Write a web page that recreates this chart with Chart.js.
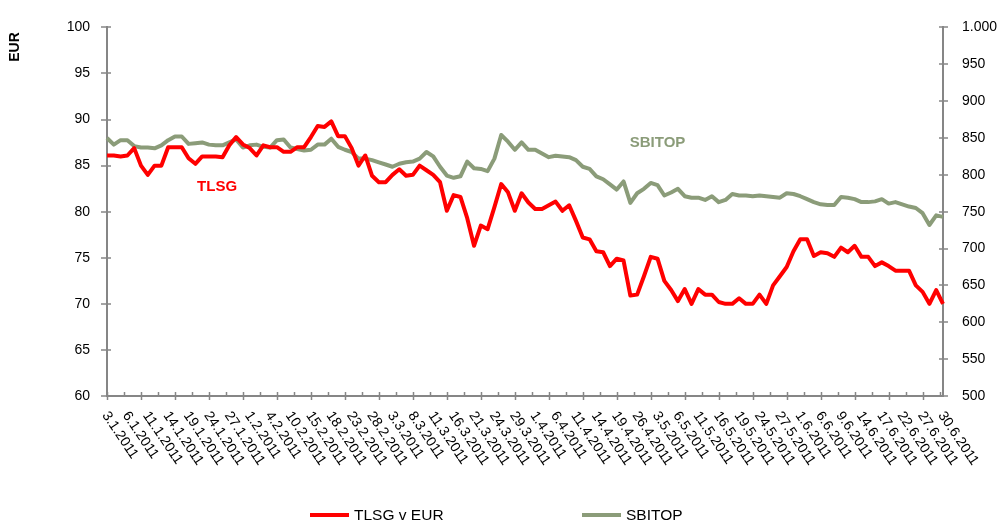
<!DOCTYPE html>
<html>
<head>
<meta charset="utf-8">
<script src="https://cdn.jsdelivr.net/npm/chart.js@4.4.1/dist/chart.umd.min.js"></script>
<style>
  body { margin: 0; background: #fff; }
  canvas { display: block; }
</style>
</head>
<body>
<canvas id="chart" width="999" height="521"></canvas>
<script>
// trading days, first half of 2011
var dates = [
  '3.1.2011','4.1.2011','5.1.2011','6.1.2011','7.1.2011','10.1.2011','11.1.2011','12.1.2011','13.1.2011','14.1.2011',
  '17.1.2011','18.1.2011','19.1.2011','20.1.2011','21.1.2011','24.1.2011','25.1.2011','26.1.2011','27.1.2011','28.1.2011','31.1.2011',
  '1.2.2011','2.2.2011','3.2.2011','4.2.2011','7.2.2011','9.2.2011','10.2.2011','11.2.2011','14.2.2011','15.2.2011',
  '16.2.2011','17.2.2011','18.2.2011','21.2.2011','22.2.2011','23.2.2011','24.2.2011','25.2.2011','28.2.2011',
  '1.3.2011','2.3.2011','3.3.2011','4.3.2011','7.3.2011','8.3.2011','9.3.2011','10.3.2011','11.3.2011','14.3.2011',
  '15.3.2011','16.3.2011','17.3.2011','18.3.2011','21.3.2011','22.3.2011','23.3.2011','24.3.2011','25.3.2011','28.3.2011',
  '29.3.2011','30.3.2011','31.3.2011',
  '1.4.2011','4.4.2011','5.4.2011','6.4.2011','7.4.2011','8.4.2011','11.4.2011','12.4.2011','13.4.2011','14.4.2011',
  '15.4.2011','18.4.2011','19.4.2011','20.4.2011','21.4.2011','26.4.2011','28.4.2011','29.4.2011',
  '3.5.2011','4.5.2011','5.5.2011','6.5.2011','9.5.2011','10.5.2011','11.5.2011','12.5.2011','13.5.2011','16.5.2011',
  '17.5.2011','18.5.2011','19.5.2011','20.5.2011','23.5.2011','24.5.2011','25.5.2011','26.5.2011','27.5.2011','30.5.2011','31.5.2011',
  '1.6.2011','2.6.2011','3.6.2011','6.6.2011','7.6.2011','8.6.2011','9.6.2011','10.6.2011','13.6.2011','14.6.2011',
  '15.6.2011','16.6.2011','17.6.2011','20.6.2011','21.6.2011','22.6.2011','23.6.2011','24.6.2011','27.6.2011','28.6.2011',
  '29.6.2011','30.6.2011'
];

// TLSG share price in EUR (left axis)
var tlsg = [
  86.1, 86.1, 86.0, 86.1, 86.9, 85.0, 84.0, 85.0, 85.0, 87.0,
  87.0, 87.0, 85.8, 85.2, 86.0, 86.0, 86.0, 85.9, 87.2, 88.1, 87.3,
  86.9, 86.1, 87.2, 87.0, 87.0, 86.5, 86.5, 87.0, 87.0, 88.1,
  89.3, 89.2, 89.8, 88.2, 88.2, 86.9, 85.0, 86.1, 83.9,
  83.2, 83.2, 84.0, 84.6, 83.9, 84.0, 85.0, 84.5, 84.0, 83.2,
  80.1, 81.8, 81.6, 79.3, 76.3, 78.5, 78.1, 80.5, 83.0, 82.1,
  80.1, 82.0, 81.0,
  80.3, 80.3, 80.7, 81.1, 80.1, 80.7, 79.0, 77.2, 77.0, 75.7,
  75.6, 74.1, 74.9, 74.7, 70.9, 71.0, 73.0, 75.1,
  74.9, 72.5, 71.5, 70.3, 71.6, 70.0, 71.6, 71.0, 71.0, 70.2,
  70.0, 70.0, 70.6, 70.0, 70.0, 71.0, 70.0, 72.0, 73.0, 74.0, 75.7,
  77.0, 77.0, 75.2, 75.6, 75.5, 75.1, 76.1, 75.6, 76.3, 75.1,
  75.1, 74.1, 74.5, 74.1, 73.6, 73.6, 73.6, 72.0, 71.3, 70.0,
  71.5, 70.0
];

// SBITOP index (right axis)
var sbitop = [
  850, 841, 847, 847, 839, 837, 837, 836, 840, 847,
  852, 852, 842, 843, 844, 841, 840, 840, 844, 848, 837,
  840, 841, 838, 837, 847, 848, 837, 835, 833, 834,
  841, 841, 849, 838, 834, 831, 822, 822, 820,
  817, 814, 811, 815, 817, 818, 822, 831, 825, 811,
  799, 796, 798, 818, 809, 808, 805, 822, 854, 845,
  834, 844, 834,
  834, 829, 824, 826, 825, 824, 820, 811, 808, 798,
  794, 787, 780, 791, 762, 775, 781, 789,
  786, 772, 776, 781, 771, 769, 769, 766, 771, 763,
  766, 774, 772, 772, 771, 772, 771, 770, 769, 775, 774,
  771, 767, 763, 760, 759, 759, 770, 769, 767, 763,
  763, 764, 767, 761, 763, 760, 757, 755, 748, 732,
  745, 743
];

var seriesNames = ['TLSG v EUR', 'SBITOP'];
var seriesColors = ['#ff0000', '#8b9c79'];
var axisColor = '#868686';
var fontFamily = "'Liberation Sans', Arial, Helvetica, sans-serif";

function thousands(v) {
  var s = String(v);
  return s.length > 3 ? s.slice(0, -3) + '.' + s.slice(-3) : s;
}

var decorations = {
  id: 'decorations',
  afterDraw: function(chart) {
    var ctx = chart.ctx;
    var area = chart.chartArea;
    var xs = chart.scales.x, yl = chart.scales.y, yr = chart.scales.y1;
    ctx.save();

    // tick marks crossing the axes
    ctx.strokeStyle = axisColor;
    ctx.lineWidth = 1.5;
    ctx.beginPath();
    yl.ticks.forEach(function(t) {
      var py = Math.round(yl.getPixelForValue(t.value));
      ctx.moveTo(area.left - 6, py); ctx.lineTo(area.left + 4, py);
    });
    yr.ticks.forEach(function(t) {
      var py = Math.round(yr.getPixelForValue(t.value));
      ctx.moveTo(area.right - 4, py); ctx.lineTo(area.right + 5, py);
    });
    for (var i = 0; i < dates.length - 1; i += 2.5) {
      var px = Math.round(xs.getPixelForValue(i)) + 0.5;
      ctx.moveTo(px, area.bottom - 4);
      ctx.lineTo(px, i % 5 === 0 ? area.bottom + 4 : area.bottom);
    }
    ctx.stroke();

    // rotated date labels, every third trading day
    ctx.fillStyle = '#000';
    ctx.font = '14px ' + fontFamily;
    ctx.textAlign = 'left';
    ctx.textBaseline = 'middle';
    for (var j = 0; j < dates.length; j += 3) {
      ctx.save();
      ctx.translate(xs.getPixelForValue(j) - 2, area.bottom + 17);
      ctx.rotate(56 * Math.PI / 180);
      ctx.fillText(dates[j], 0, 0);
      ctx.restore();
    }

    // axis title
    ctx.save();
    ctx.translate(15, 47);
    ctx.rotate(-Math.PI / 2);
    ctx.textAlign = 'center';
    ctx.font = 'bold 14px ' + fontFamily;
    ctx.fillText('EUR', 0, 0);
    ctx.restore();

    // series names inside the plot
    ctx.font = 'bold 15px ' + fontFamily;
    ctx.textAlign = 'center';
    ctx.fillStyle = seriesColors[0];
    ctx.fillText('TLSG', xs.getPixelForValue(16.2), yl.getPixelForValue(82.7));
    ctx.fillStyle = seriesColors[1];
    ctx.fillText('SBITOP', xs.getPixelForValue(81), yl.getPixelForValue(87.5));

    // legend
    var legendX = [310, 582];
    ctx.font = '15.5px ' + fontFamily;
    ctx.textAlign = 'left';
    ctx.textBaseline = 'alphabetic';
    for (var k = 0; k < seriesNames.length; k++) {
      ctx.strokeStyle = seriesColors[k];
      ctx.lineWidth = 4;
      ctx.beginPath();
      ctx.moveTo(legendX[k], 515); ctx.lineTo(legendX[k] + 39, 515);
      ctx.stroke();
      ctx.fillStyle = '#000';
      ctx.fillText(seriesNames[k], legendX[k] + 44, 520);
    }
    ctx.restore();
  }
};

window.onload = function() {
  Chart.defaults.font.family = fontFamily;
  Chart.defaults.font.size = 14;
  Chart.defaults.color = '#000';

  var ctx = document.getElementById('chart').getContext('2d');
  new Chart(ctx, {
    type: 'line',
    data: {
      labels: dates,
      datasets: [{
        label: seriesNames[0],
        data: tlsg,
        yAxisID: 'y',
        borderColor: seriesColors[0],
        backgroundColor: seriesColors[0],
        borderWidth: 4,
        pointRadius: 0,
        tension: 0,
        borderJoinStyle: 'round'
      }, {
        label: seriesNames[1],
        data: sbitop,
        yAxisID: 'y1',
        borderColor: seriesColors[1],
        backgroundColor: seriesColors[1],
        borderWidth: 4,
        pointRadius: 0,
        tension: 0,
        borderJoinStyle: 'round'
      }]
    },
    options: {
      responsive: false,
      animation: false,
      layout: { padding: { top: 20, left: 0, right: 0, bottom: 0 } },
      plugins: {
        legend: { display: false },
        tooltip: { enabled: false }
      },
      scales: {
        x: {
          type: 'category',
          offset: false,
          ticks: { display: false },
          grid: { display: false, drawTicks: false },
          border: { display: true, color: axisColor, width: 2 },
          afterFit: function(s) { s.height = 125; }
        },
        y: {
          position: 'left',
          min: 60,
          max: 100,
          ticks: { stepSize: 5, padding: 17 },
          grid: { display: false, drawTicks: false },
          border: { display: true, color: axisColor, width: 2 },
          afterFit: function(s) { s.width = 107; }
        },
        y1: {
          position: 'right',
          min: 500,
          max: 1000,
          ticks: {
            stepSize: 50,
            padding: 19,
            callback: function(v) { return thousands(v); }
          },
          grid: { display: false, drawTicks: false },
          border: { display: true, color: axisColor, width: 2 },
          afterFit: function(s) { s.width = 56; }
        }
      }
    },
    plugins: [decorations]
  });
};
</script>
</body>
</html>
